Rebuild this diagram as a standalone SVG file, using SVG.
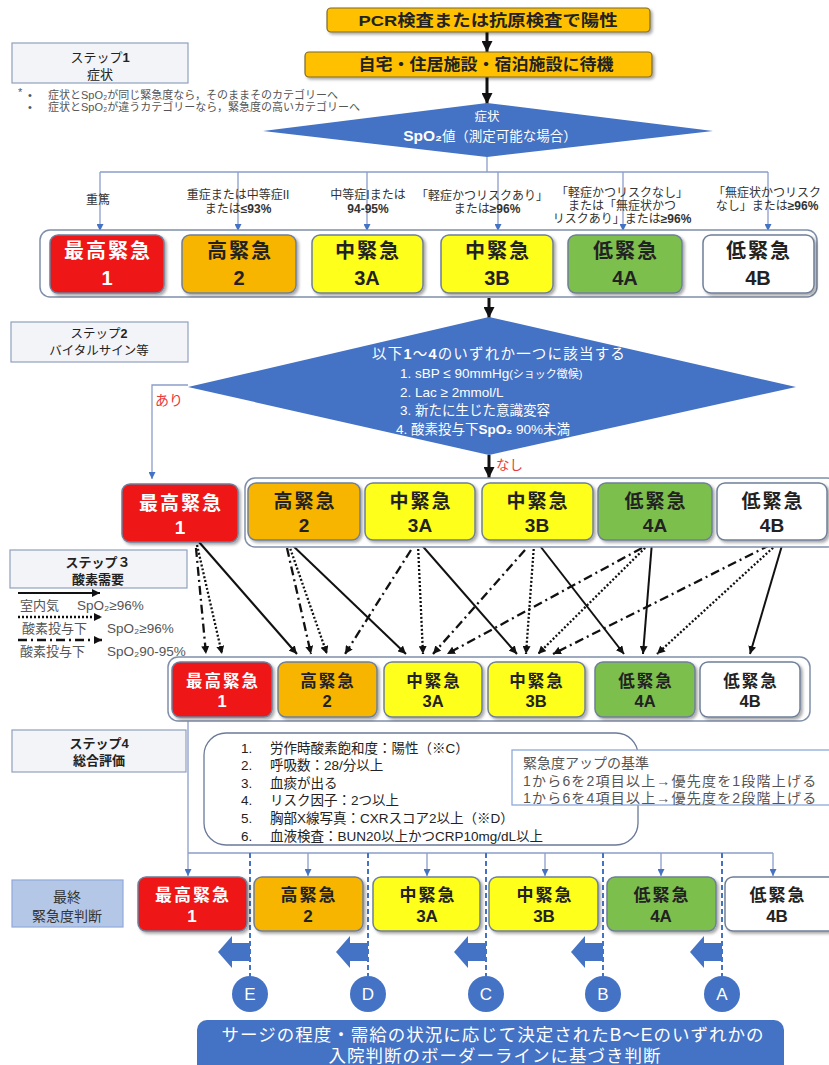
<svg xmlns="http://www.w3.org/2000/svg" width="829" height="1065" viewBox="0 0 829 1065">
<defs>
<style>
text{font-family:"Liberation Sans","Noto Sans CJK JP",sans-serif;}
.c{text-anchor:middle}
.b{font-weight:bold}
.w{fill:#fff}
.tk{fill:#222}
.lbl{font-size:12px;fill:#333;text-anchor:middle}
.note{font-size:11px;fill:#555}
.step{fill:#F3F4F8;stroke:#8FA0BF;stroke-width:1.2}
.cont{fill:#fff;stroke:#7F8FA9;stroke-width:1.5}
.red{fill:#EE1515;stroke:#6F7F99;stroke-width:1.5}
.ora{fill:#F7B500;stroke:#6F7F99;stroke-width:1.5}
.yel{fill:#FFFF1A;stroke:#6F7F99;stroke-width:1.5}
.grn{fill:#7DBF4E;stroke:#6F7F99;stroke-width:1.5}
.wht{fill:#fff;stroke:#6F7F99;stroke-width:1.5}
.top{fill:#FFC000;stroke:#7a6a30;stroke-width:1.2}
.bl{stroke:#8A9DC9;stroke-width:1.3;fill:none}
.blk{stroke:#111;stroke-width:3;fill:none}
.s{stroke:#111;stroke-width:2;fill:none}
.d{stroke:#111;stroke-width:2.3;fill:none;stroke-dasharray:2 2}
.dd{stroke:#111;stroke-width:2.3;fill:none;stroke-dasharray:9 4 2 4}
.dash{stroke:#4472C4;stroke-width:2;stroke-dasharray:5 3;fill:none}
.blue{fill:#4472C4}
.r1{font-size:20px;font-weight:bold;text-anchor:middle;letter-spacing:2px}
.r2{font-size:19px;font-weight:bold;text-anchor:middle;letter-spacing:2px}
.r3{font-size:16.5px;font-weight:bold;text-anchor:middle;letter-spacing:2px}
.rf{font-size:17px;font-weight:bold;text-anchor:middle;letter-spacing:2px}
.num{letter-spacing:0}
</style>
<filter id="sh" x="-10%" y="-10%" width="130%" height="140%"><feDropShadow dx="2" dy="2" stdDeviation="1.5" flood-color="#000" flood-opacity="0.35"/></filter>
<marker id="ak" viewBox="0 0 10 10" refX="10" refY="5" markerWidth="11" markerHeight="11" markerUnits="userSpaceOnUse" orient="auto"><path d="M0,0L10,5L0,10z" fill="#111"/></marker>
<marker id="a" viewBox="0 0 10 10" refX="10" refY="5" markerWidth="8" markerHeight="8" markerUnits="userSpaceOnUse" orient="auto"><path d="M0,0L10,5L0,10z" fill="#111"/></marker>
<marker id="ab" viewBox="0 0 10 10" refX="10" refY="5" markerWidth="7" markerHeight="7" markerUnits="userSpaceOnUse" orient="auto"><path d="M0,0L10,5L0,10z" fill="#4472C4"/></marker>
</defs>
<rect width="829" height="1065" fill="#fff"/>

<g id="connectors">
<line class="blk" x1="487" y1="32" x2="487" y2="52" marker-end="url(#ak)"/>
<line class="blk" x1="487" y1="77" x2="487" y2="104" marker-end="url(#ak)"/>
<line class="blk" x1="489" y1="298" x2="489" y2="318" marker-end="url(#ak)"/>
<line class="blk" x1="489" y1="455" x2="489" y2="478" marker-end="url(#ak)"/>
<path class="bl" d="M487,157V172M100,172H768"/>
<line class="bl" x1="100" y1="172" x2="100" y2="231" marker-end="url(#ab)"/>
<line class="bl" x1="238" y1="172" x2="238" y2="231" marker-end="url(#ab)"/>
<line class="bl" x1="367" y1="172" x2="367" y2="231" marker-end="url(#ab)"/>
<line class="bl" x1="498" y1="172" x2="498" y2="231" marker-end="url(#ab)"/>
<line class="bl" x1="623" y1="172" x2="623" y2="231" marker-end="url(#ab)"/>
<line class="bl" x1="768" y1="172" x2="768" y2="231" marker-end="url(#ab)"/>
<path class="bl" d="M188,385H152V479" marker-end="url(#ab)"/>
<line class="s" x1="199" y1="542" x2="297" y2="654" marker-end="url(#a)"/>
<line class="s" x1="289" y1="542" x2="406" y2="654" marker-end="url(#a)"/>
<line class="s" x1="419" y1="542" x2="517" y2="654" marker-end="url(#a)"/>
<line class="s" x1="537" y1="542" x2="624" y2="654" marker-end="url(#a)"/>
<line class="s" x1="652" y1="542" x2="643" y2="654" marker-end="url(#a)"/>
<line class="s" x1="783" y1="542" x2="750" y2="654" marker-end="url(#a)"/>
<line class="d" x1="197" y1="545" x2="222" y2="654" marker-end="url(#a)"/>
<line class="d" x1="289" y1="545" x2="327" y2="654" marker-end="url(#a)"/>
<line class="d" x1="418" y1="545" x2="423" y2="654" marker-end="url(#a)"/>
<line class="d" x1="534" y1="545" x2="526" y2="654" marker-end="url(#a)"/>
<line class="d" x1="648" y1="545" x2="538" y2="654" marker-end="url(#a)"/>
<line class="d" x1="776" y1="545" x2="657" y2="654" marker-end="url(#a)"/>
<line class="dd" x1="196" y1="548" x2="206" y2="654" marker-end="url(#a)"/>
<line class="dd" x1="287" y1="548" x2="311" y2="654" marker-end="url(#a)"/>
<line class="dd" x1="411" y1="550" x2="345" y2="654" marker-end="url(#a)"/>
<line class="dd" x1="525" y1="550" x2="433" y2="654" marker-end="url(#a)"/>
<line class="dd" x1="642" y1="548" x2="447" y2="654" marker-end="url(#a)"/>
<line class="dd" x1="770" y1="545" x2="553" y2="654" marker-end="url(#a)"/>
<line class="s" x1="18" y1="593" x2="100" y2="593" marker-end="url(#a)"/>
<line class="d" x1="18" y1="617" x2="102" y2="617" marker-end="url(#a)"/>
<line class="dd" x1="18" y1="640" x2="102" y2="640" marker-end="url(#a)"/>
<line class="bl" x1="188" y1="718" x2="188" y2="876" marker-end="url(#ab)"/>
<path class="bl" d="M188,853H773"/>
<line class="bl" x1="308" y1="853" x2="308" y2="876" marker-end="url(#ab)"/>
<line class="bl" x1="427" y1="853" x2="427" y2="876" marker-end="url(#ab)"/>
<line class="bl" x1="545" y1="853" x2="545" y2="876" marker-end="url(#ab)"/>
<line class="bl" x1="661" y1="853" x2="661" y2="876" marker-end="url(#ab)"/>
<line class="bl" x1="773" y1="853" x2="773" y2="876" marker-end="url(#ab)"/>
<line class="dash" x1="250" y1="853" x2="250" y2="976"/>
<line class="dash" x1="368" y1="853" x2="368" y2="976"/>
<line class="dash" x1="486" y1="853" x2="486" y2="976"/>
<line class="dash" x1="603" y1="853" x2="603" y2="976"/>
<line class="dash" x1="722" y1="853" x2="722" y2="976"/>
</g>

<g id="pcr"><rect class="top" x="327" y="8" width="323" height="24" rx="4" filter="url(#sh)"/>
<text class="c b tk" x="488" y="26" font-size="15.5" textLength="259" lengthAdjust="spacingAndGlyphs">PCR検査または抗原検査で陽性</text></g>
<g id="wait"><rect class="top" x="305" y="52" width="347" height="25" rx="4" filter="url(#sh)"/>
<text class="c b tk" x="486" y="70" font-size="15.5" textLength="255" lengthAdjust="spacingAndGlyphs">自宅・住居施設・宿泊施設に待機</text></g>

<g id="step1"><rect class="step" x="12" y="43" width="176" height="40"/>
<text class="c tk" x="100" y="62" font-size="13">ステップ<tspan class="b">1</tspan></text>
<text class="c tk" x="100" y="79" font-size="13">症状</text></g>
<g id="notes">
<text class="note" x="18" y="96" font-size="9">*</text>
<text class="note" x="28" y="99">•</text>
<text class="note" x="48" y="99">症状とSpO₂が同じ緊急度なら，そのままそのカテゴリーへ</text>
<text class="note" x="28" y="111">•</text>
<text class="note" x="48" y="111">症状とSpO₂が違うカテゴリーなら，緊急度の高いカテゴリーへ</text>
</g>

<g id="diamond1"><polygon points="487,103 713,131 487,157 263,131" fill="#4472C4"/>
<text class="c w" x="487" y="121" font-size="12.5">症状</text>
<text class="c w" x="490" y="141" font-size="13.5"><tspan class="b" font-size="15.5">SpO₂</tspan>値（測定可能な場合）</text></g>

<g id="labels1">
<text class="lbl" x="98" y="204" font-size="11">重篤</text>
<text class="lbl" x="238" y="199">重症または中等症II</text>
<text class="lbl" x="238" y="213">または<tspan class="b">≤93%</tspan></text>
<text class="lbl" x="368" y="199">中等症Iまたは</text>
<text class="lbl b" x="368" y="213">94-95%</text>
<text class="lbl" x="482" y="200">「軽症かつリスクあり」</text>
<text class="lbl" x="487" y="213">または<tspan class="b">≥96%</tspan></text>
<text class="lbl" x="622" y="197">「軽症かつリスクなし」</text>
<text class="lbl" x="622" y="210">または「無症状かつ</text>
<text class="lbl" x="622" y="223">リスクあり」または<tspan class="b">≥96%</tspan></text>
<text class="lbl" x="767" y="197">「無症状かつリスク</text>
<text class="lbl" x="767" y="210">なし」または<tspan class="b">≥96%</tspan></text>
</g>

<g id="row1">
<rect class="cont" x="40" y="230" width="777" height="67" rx="10"/>
<g id="r1-1"><rect class="red" x="50" y="235" width="114" height="58" rx="8" filter="url(#sh)"/><text class="r1 w" x="108" y="258">最高緊急</text><text class="r1 num w" x="107" y="285" font-size="21">1</text></g>
<g id="r1-2"><rect class="ora" x="182" y="235" width="114" height="58" rx="8" filter="url(#sh)"/><text class="r1 tk" x="240" y="258">高緊急</text><text class="r1 num tk" x="239" y="285" font-size="21">2</text></g>
<g id="r1-3A"><rect class="yel" x="312" y="235" width="111" height="58" rx="8" filter="url(#sh)"/><text class="r1 tk" x="368" y="258">中緊急</text><text class="r1 num tk" x="367" y="285" font-size="21">3A</text></g>
<g id="r1-3B"><rect class="yel" x="441" y="235" width="112" height="58" rx="8" filter="url(#sh)"/><text class="r1 tk" x="498" y="258">中緊急</text><text class="r1 num tk" x="497" y="285" font-size="21">3B</text></g>
<g id="r1-4A"><rect class="grn" x="568" y="235" width="114" height="58" rx="8" filter="url(#sh)"/><text class="r1 tk" x="626" y="258">低緊急</text><text class="r1 num tk" x="625" y="285" font-size="21">4A</text></g>
<g id="r1-4B"><rect class="wht" x="703" y="235" width="111" height="58" rx="8" filter="url(#sh)"/><text class="r1 tk" x="759" y="258">低緊急</text><text class="r1 num tk" x="758" y="285" font-size="21">4B</text></g>
</g>

<g id="step2"><rect class="step" x="11" y="322" width="177" height="40"/>
<text class="c tk" x="99" y="338" font-size="12.5">ステップ<tspan class="b">2</tspan></text>
<text class="c tk" x="99" y="355" font-size="12.5">バイタルサイン等</text></g>

<g id="diamond2"><polygon points="489,317 796,387 489,455 188,387" fill="#4472C4"/>
<text class="w" x="372" y="359" font-size="14.5" letter-spacing="1.2">以下<tspan class="b">1</tspan>～<tspan class="b">4</tspan>のいずれか一つに該当する</text>
<text class="w" x="400" y="378" font-size="13.5">1. sBP ≤ 90mmHg<tspan font-size="11">(ショック徴候)</tspan></text>
<text class="w" x="400" y="397" font-size="13.5">2. Lac ≥ 2mmol/L</text>
<text class="w" x="400" y="415" font-size="13.5">3. 新たに生じた意識変容</text>
<text class="w" x="396" y="434" font-size="13.5">4. 酸素投与下<tspan class="b">SpO₂</tspan> 90%未満</text>
</g>
<text x="155" y="405" font-size="14" fill="#E8393C">あり</text>
<text x="496" y="470" font-size="13.5" fill="#E8393C">なし</text>

<g id="row2">
<rect class="cont" x="245" y="478" width="592" height="69" rx="10"/>
<g id="r2-1"><rect class="red" x="122" y="484" width="116" height="58" rx="8" filter="url(#sh)"/><text class="r2 w" x="181" y="510">最高緊急</text><text class="r2 num w" x="180" y="534" font-size="20">1</text></g>
<g id="r2-2"><rect class="ora" x="248" y="483" width="112" height="57" rx="8" filter="url(#sh)"/><text class="r2 tk" x="305" y="508">高緊急</text><text class="r2 num tk" x="304" y="532" font-size="20">2</text></g>
<g id="r2-3A"><rect class="yel" x="365" y="483" width="110" height="57" rx="8" filter="url(#sh)"/><text class="r2 tk" x="421" y="508">中緊急</text><text class="r2 num tk" x="420" y="532" font-size="20">3A</text></g>
<g id="r2-3B"><rect class="yel" x="482" y="483" width="111" height="57" rx="8" filter="url(#sh)"/><text class="r2 tk" x="538" y="508">中緊急</text><text class="r2 num tk" x="537" y="532" font-size="20">3B</text></g>
<g id="r2-4A"><rect class="grn" x="598" y="483" width="114" height="57" rx="8" filter="url(#sh)"/><text class="r2 tk" x="656" y="508">低緊急</text><text class="r2 num tk" x="655" y="532" font-size="20">4A</text></g>
<g id="r2-4B"><rect class="wht" x="717" y="483" width="110" height="57" rx="8" filter="url(#sh)"/><text class="r2 tk" x="773" y="508">低緊急</text><text class="r2 num tk" x="772" y="532" font-size="20">4B</text></g>
</g>

<g id="step3"><rect class="step" x="10" y="550" width="177" height="38"/>
<text class="c b tk" x="98" y="567" font-size="13">ステップ３</text>
<text class="c b tk" x="98" y="584" font-size="13">酸素需要</text></g>
<g id="legend">
<text x="20" y="610" font-size="13" fill="#555">室内気</text><text x="77" y="610" font-size="13.5" fill="#555">SpO₂≥96%</text>
<text x="22" y="633" font-size="13" fill="#555">酸素投与下</text><text x="107" y="633" font-size="13.5" fill="#555">SpO₂≥96%</text>
<text x="20" y="656" font-size="13" fill="#555">酸素投与下</text><text x="107" y="656" font-size="13.5" fill="#555">SpO₂90-95%</text>
</g>

<g id="row3">
<rect class="cont" x="168" y="657" width="642" height="64" rx="10"/>
<g id="r3-1"><rect class="red" x="172" y="662" width="100" height="55" rx="8" filter="url(#sh)"/><text class="r3 w" x="223" y="687">最高緊急</text><text class="r3 num w" x="222" y="707" font-size="17.5">1</text></g>
<g id="r3-2"><rect class="ora" x="278" y="662" width="99" height="55" rx="8" filter="url(#sh)"/><text class="r3 tk" x="328" y="687">高緊急</text><text class="r3 num tk" x="327" y="707" font-size="17.5">2</text></g>
<g id="r3-3A"><rect class="yel" x="384" y="662" width="98" height="55" rx="8" filter="url(#sh)"/><text class="r3 tk" x="434" y="687">中緊急</text><text class="r3 num tk" x="433" y="707" font-size="17.5">3A</text></g>
<g id="r3-3B"><rect class="yel" x="488" y="662" width="97" height="55" rx="8" filter="url(#sh)"/><text class="r3 tk" x="537" y="687">中緊急</text><text class="r3 num tk" x="536" y="707" font-size="17.5">3B</text></g>
<g id="r3-4A"><rect class="grn" x="595" y="662" width="100" height="55" rx="8" filter="url(#sh)"/><text class="r3 tk" x="646" y="687">低緊急</text><text class="r3 num tk" x="645" y="707" font-size="17.5">4A</text></g>
<g id="r3-4B"><rect class="wht" x="700" y="662" width="100" height="55" rx="8" filter="url(#sh)"/><text class="r3 tk" x="751" y="687">低緊急</text><text class="r3 num tk" x="750" y="707" font-size="17.5">4B</text></g>
</g>

<g id="step4"><rect class="step" x="12" y="730" width="174" height="42"/>
<text class="c b tk" x="99" y="748" font-size="13">ステップ4</text>
<text class="c b tk" x="99" y="765" font-size="13">総合評価</text></g>

<g id="criteria"><rect x="204" y="733" width="434" height="112" rx="22" fill="#fff" stroke="#6B7A99" stroke-width="1.3"/>
<text x="241" y="753" font-size="13.5" fill="#222">1.</text><text x="270" y="753" font-size="13.5" fill="#222">労作時酸素飽和度：陽性（※C）</text>
<text x="241" y="770" font-size="13.5" fill="#222">2.</text><text x="270" y="770" font-size="13.5" fill="#222">呼吸数：28/分以上</text>
<text x="241" y="788" font-size="13.5" fill="#222">3.</text><text x="270" y="788" font-size="13.5" fill="#222">血痰が出る</text>
<text x="241" y="805" font-size="13.5" fill="#222">4.</text><text x="270" y="805" font-size="13.5" fill="#222">リスク因子：2つ以上</text>
<text x="241" y="823" font-size="13.5" fill="#222">5.</text><text x="270" y="823" font-size="13.5" fill="#222">胸部X線写真：CXRスコア2以上（※D）</text>
<text x="241" y="841" font-size="13.5" fill="#222">6.</text><text x="270" y="841" font-size="13.5" fill="#222">血液検査：BUN20以上かつCRP10mg/dL以上</text></g>

<g id="upcriteria"><rect x="512" y="750" width="322" height="55" fill="#fff" stroke="#8EA9DB" stroke-width="1.3"/>
<text x="523" y="768" font-size="14" fill="#555">緊急度アップの基準</text>
<text x="523" y="786" font-size="14" fill="#555" letter-spacing="1.2">1から6を2項目以上→優先度を1段階上げる</text>
<text x="523" y="803" font-size="14" fill="#555" letter-spacing="1.2">1から6を4項目以上→優先度を2段階上げる</text></g>

<g id="final-label"><rect x="12" y="880" width="111" height="47" fill="#B4C7E7" stroke="#8EA9DB" stroke-width="1.2"/>
<text class="c" x="67" y="902" font-size="14" fill="#333">最終</text>
<text class="c" x="67" y="921" font-size="14" fill="#333">緊急度判断</text></g>

<g id="final">
<g id="f-1"><rect class="red" x="138" y="877" width="109" height="54" rx="8" filter="url(#sh)"/><text class="rf w" x="193" y="901">最高緊急</text><text class="rf num w" x="192" y="922" font-size="18">1</text></g>
<g id="f-2"><rect class="ora" x="254" y="877" width="109" height="54" rx="8" filter="url(#sh)"/><text class="rf tk" x="309" y="901">高緊急</text><text class="rf num tk" x="308" y="922" font-size="18">2</text></g>
<g id="f-3A"><rect class="yel" x="373" y="877" width="107" height="54" rx="8" filter="url(#sh)"/><text class="rf tk" x="428" y="901">中緊急</text><text class="rf num tk" x="427" y="922" font-size="18">3A</text></g>
<g id="f-3B"><rect class="yel" x="489" y="877" width="109" height="54" rx="8" filter="url(#sh)"/><text class="rf tk" x="545" y="901">中緊急</text><text class="rf num tk" x="544" y="922" font-size="18">3B</text></g>
<g id="f-4A"><rect class="grn" x="607" y="877" width="109" height="54" rx="8" filter="url(#sh)"/><text class="rf tk" x="662" y="901">低緊急</text><text class="rf num tk" x="661" y="922" font-size="18">4A</text></g>
<g id="f-4B"><rect class="wht" x="725" y="877" width="112" height="54" rx="8" filter="url(#sh)"/><text class="rf tk" x="778" y="901">低緊急</text><text class="rf num tk" x="777" y="922" font-size="18">4B</text></g>
</g>

<g id="borderlines">
<polygon class="blue" points="218,952 232,936 232,943 250,943 250,961 232,961 232,968"/>
<polygon class="blue" points="336,952 350,936 350,943 368,943 368,961 350,961 350,968"/>
<polygon class="blue" points="454,952 468,936 468,943 486,943 486,961 468,961 468,968"/>
<polygon class="blue" points="571,952 585,936 585,943 603,943 603,961 585,961 585,968"/>
<polygon class="blue" points="690,952 704,936 704,943 722,943 722,961 704,961 704,968"/>
<g id="cE"><circle class="blue" cx="250" cy="994" r="18"/><text class="c w" x="250" y="1000" font-size="17">E</text></g>
<g id="cD"><circle class="blue" cx="368" cy="994" r="18"/><text class="c w" x="368" y="1000" font-size="17">D</text></g>
<g id="cC"><circle class="blue" cx="486" cy="994" r="18"/><text class="c w" x="486" y="1000" font-size="17">C</text></g>
<g id="cB"><circle class="blue" cx="603" cy="994" r="18"/><text class="c w" x="603" y="1000" font-size="17">B</text></g>
<g id="cA"><circle class="blue" cx="722" cy="994" r="18"/><text class="c w" x="722" y="1000" font-size="17">A</text></g>
</g>

<g id="banner"><rect x="197" y="1020" width="587" height="55" rx="10" fill="#4472C4"/>
<text class="c w" x="493" y="1041" font-size="17.5" letter-spacing="1">サージの程度・需給の状況に応じて決定されたB～Eのいずれかの</text>
<text class="c w" x="495" y="1062" font-size="17.5" letter-spacing="1">入院判断のボーダーラインに基づき判断</text></g>
</svg>
